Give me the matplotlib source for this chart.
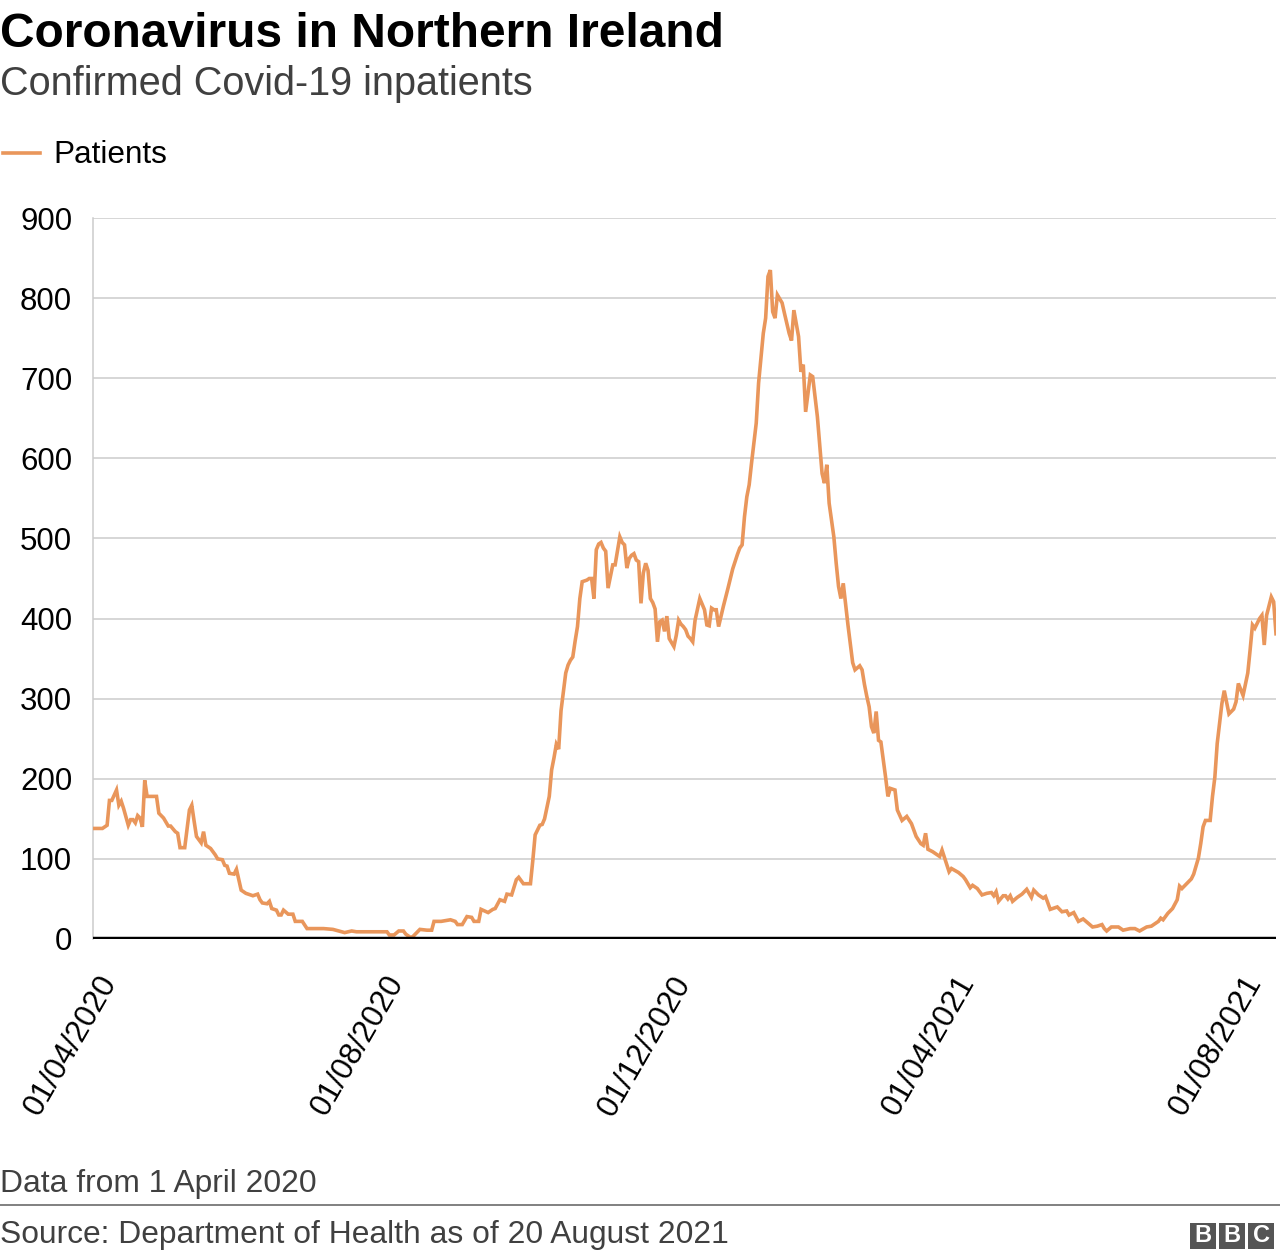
# Coronavirus in Northern Ireland - Covid-19 inpatients (BBC style)
import pandas as pd
import matplotlib.pyplot as plt
import matplotlib.transforms as mtransforms
from matplotlib.patches import Rectangle

# Daten: Tage seit 1. April 2020 und Patientenzahlen
start_date = '2020-04-01'
days = [0, 4, 6, 7, 8, 10, 11, 12, 13, 15, 16, 17, 18, 19, 20, 21, 22, 23, 24, 27,
        28, 30, 32, 33, 35, 36, 37, 39, 41, 42, 43, 44, 46, 47, 48, 50, 52, 53, 55, 56,
        57, 58, 60, 61, 63, 65, 67, 68, 70, 71, 72, 74, 75, 76, 78, 79, 80, 81, 83, 85,
        86, 89, 91, 98, 102, 107, 110, 112, 125, 126, 128, 130, 132, 133, 135, 136, 139, 142, 144, 145,
        148, 150, 152, 154, 155, 157, 159, 161, 162, 164, 165, 168, 170, 171, 173, 175, 176, 178, 180, 181,
        183, 186, 187, 188, 190, 191, 192, 194, 195, 196, 197, 198, 199, 201, 202, 203, 204, 205, 206, 207,
        208, 210, 211, 212, 213, 214, 215, 216, 217, 218, 219, 221, 222, 224, 225, 226, 227, 228, 229, 230,
        231, 232, 233, 234, 235, 236, 237, 238, 239, 240, 241, 242, 243, 244, 245, 246, 247, 248, 249, 250,
        251, 252, 253, 254, 255, 256, 258, 260, 261, 262, 263, 264, 265, 266, 268, 270, 272, 274, 275, 276,
        277, 278, 279, 280, 282, 283, 285, 286, 287, 288, 289, 290, 291, 293, 294, 296, 297, 298, 300, 301,
        302, 303, 305, 306, 308, 310, 311, 312, 313, 315, 316, 317, 318, 319, 321, 323, 324, 326, 327, 328,
        329, 330, 331, 332, 333, 334, 335, 337, 338, 339, 341, 342, 344, 346, 348, 350, 352, 353, 354, 355,
        357, 358, 360, 361, 363, 364, 365, 368, 370, 371, 373, 374, 376, 378, 380, 382, 383, 384, 385, 387,
        388, 389, 390, 391, 393, 395, 397, 398, 399, 400, 402, 404, 405, 407, 410, 412, 414, 415, 417, 419,
        421, 423, 425, 427, 429, 430, 431, 433, 436, 438, 441, 443, 445, 448, 450, 453, 454, 455, 457, 459,
        461, 462, 463, 465, 467, 468, 470, 471, 472, 473, 475, 476, 477, 478, 480, 481, 483, 485, 486, 487,
        489, 491, 492, 493, 494, 496, 497, 498, 499, 501, 502, 503]
patients = [138, 138, 142, 173, 173, 186, 167, 172, 163, 142, 149, 149, 145, 154, 151, 140, 198, 178, 178, 178,
            157, 151, 141, 141, 134, 132, 114, 114, 161, 167, 147, 128, 120, 134, 117, 113, 105, 100, 99, 92,
            91, 82, 81, 87, 61, 57, 55, 54, 56, 49, 45, 44, 47, 38, 36, 30, 30, 36, 31, 31,
            22, 22, 13, 13, 12, 8, 10, 9, 9, 5, 5, 10, 10, 6, 2, 3, 12, 11, 11, 22,
            22, 23, 24, 22, 18, 18, 28, 27, 22, 22, 37, 33, 37, 38, 49, 47, 56, 55, 74, 77,
            69, 69, 98, 130, 142, 143, 150, 178, 211, 226, 243, 237, 285, 332, 342, 348, 352, 372, 390, 425,
            446, 448, 450, 450, 425, 486, 493, 495, 488, 484, 438, 467, 467, 502, 495, 492, 463, 475, 479, 481,
            473, 471, 419, 457, 469, 460, 425, 420, 412, 371, 396, 398, 384, 403, 375, 370, 365, 379, 398, 393,
            390, 386, 378, 375, 371, 398, 425, 411, 392, 391, 413, 411, 411, 390, 415, 438, 462, 480, 488, 492,
            527, 552, 567, 594, 644, 694, 756, 775, 827, 835, 783, 775, 804, 794, 781, 756, 747, 785, 752, 708,
            717, 658, 704, 702, 652, 581, 569, 592, 544, 502, 469, 440, 425, 444, 392, 345, 336, 341, 336, 318,
            303, 290, 265, 257, 284, 248, 246, 202, 178, 188, 186, 161, 148, 153, 144, 128, 119, 117, 132, 112,
            109, 107, 103, 111, 93, 84, 88, 83, 78, 74, 64, 67, 63, 55, 57, 58, 54, 59, 47, 54,
            54, 50, 54, 47, 52, 56, 62, 57, 52, 61, 55, 51, 53, 37, 40, 34, 35, 30, 33, 22,
            25, 20, 15, 16, 18, 13, 10, 15, 15, 11, 13, 13, 10, 15, 16, 22, 26, 24, 32, 38,
            49, 66, 63, 69, 75, 81, 101, 119, 140, 148, 148, 178, 202, 244, 294, 310, 281, 287, 296, 319,
            304, 332, 361, 392, 388, 400, 404, 367, 404, 427, 421, 381]

tick_dates = ['2020-04-01', '2020-08-01', '2020-12-01', '2021-04-01', '2021-08-01']
tick_labels = ['01/04/2020', '01/08/2020', '01/12/2020', '01/04/2021', '01/08/2021']
y_ticks = [0, 100, 200, 300, 400, 500, 600, 700, 800, 900]

dates = pd.Timestamp(start_date) + pd.to_timedelta(days, unit='D')

plt.rcParams['font.family'] = ['Liberation Sans', 'DejaVu Sans']

W, H = 1280, 1260
fig = plt.figure(figsize=(W / 100, H / 100), dpi=100)

# Achsenbereich in Pixeln
left, right, top, bottom = 93, 1276, 218, 939
ax = fig.add_axes([left / W, 1 - bottom / H, (right - left) / W, (bottom - top) / H])

line_color = '#e9965b'
ax.plot(dates, patients, color=line_color, linewidth=2.6, solid_joinstyle='miter', zorder=3)

ax.set_ylim(0, 900)
ax.set_xlim(pd.Timestamp(start_date), dates[-1])
ax.set_yticks(y_ticks)
ax.set_yticklabels([str(v) for v in y_ticks])
ax.grid(axis='y', color='#cccccc', linewidth=1.1)
ax.axhline(0, color='black', linewidth=3.2, zorder=4)

for s in ['top', 'right', 'bottom']:
    ax.spines[s].set_visible(False)
ax.spines['left'].set_color('#cccccc')
ax.spines['left'].set_linewidth(1.1)

ax.tick_params(axis='y', length=0, pad=15, labelsize=22.5, labelcolor='black')
ax.tick_params(axis='x', length=0, pad=28, labelsize=22.5, labelcolor='black')

ax.set_xticks(pd.to_datetime(tick_dates))
ax.set_xticklabels(tick_labels, rotation=60, ha='right', va='center', rotation_mode='anchor')
shift = mtransforms.ScaledTranslation(0.17, 0, fig.dpi_scale_trans)
for lab in ax.get_xticklabels():
    lab.set_transform(lab.get_transform() + shift)

# Titel und Untertitel
fig.text(0, 1 - 47 / H, 'Coronavirus in Northern Ireland', fontsize=34.5, fontweight='bold',
         color='black', va='baseline', ha='left')
fig.text(0, 1 - 95 / H, 'Confirmed Covid-19 inpatients', fontsize=28.5,
         color='#404040', va='baseline', ha='left')

# Legende
fig.add_artist(plt.Line2D([3 / W, 40 / W], [1 - 153 / H, 1 - 153 / H], color=line_color, linewidth=2.6))
fig.text(53 / W, 1 - 163 / H, 'Patients', fontsize=22.7, color='black', va='baseline', ha='left')

# Fusszeile
fig.text(0, 1 - 1192 / H, 'Data from 1 April 2020', fontsize=22.9, color='#404040', va='baseline', ha='left')
fig.add_artist(plt.Line2D([0, 1], [1 - 1205 / H, 1 - 1205 / H], color='#808080', linewidth=1.4))
fig.text(0, 1 - 1243 / H, 'Source: Department of Health as of 20 August 2021', fontsize=22.9,
         color='#404040', va='baseline', ha='left')

# BBC Logo
for i, letter in enumerate('BBC'):
    x0 = 1190 + i * 29
    fig.add_artist(Rectangle((x0 / W, 1 - 1249 / H), 26 / W, 26 / H, transform=fig.transFigure,
                             facecolor='#555555', edgecolor='none'))
    fig.text((x0 + 13) / W, 1 - 1236 / H, letter, fontsize=17, fontweight='bold', color='white',
             ha='center', va='center')

fig.savefig('out.png', dpi=100)
